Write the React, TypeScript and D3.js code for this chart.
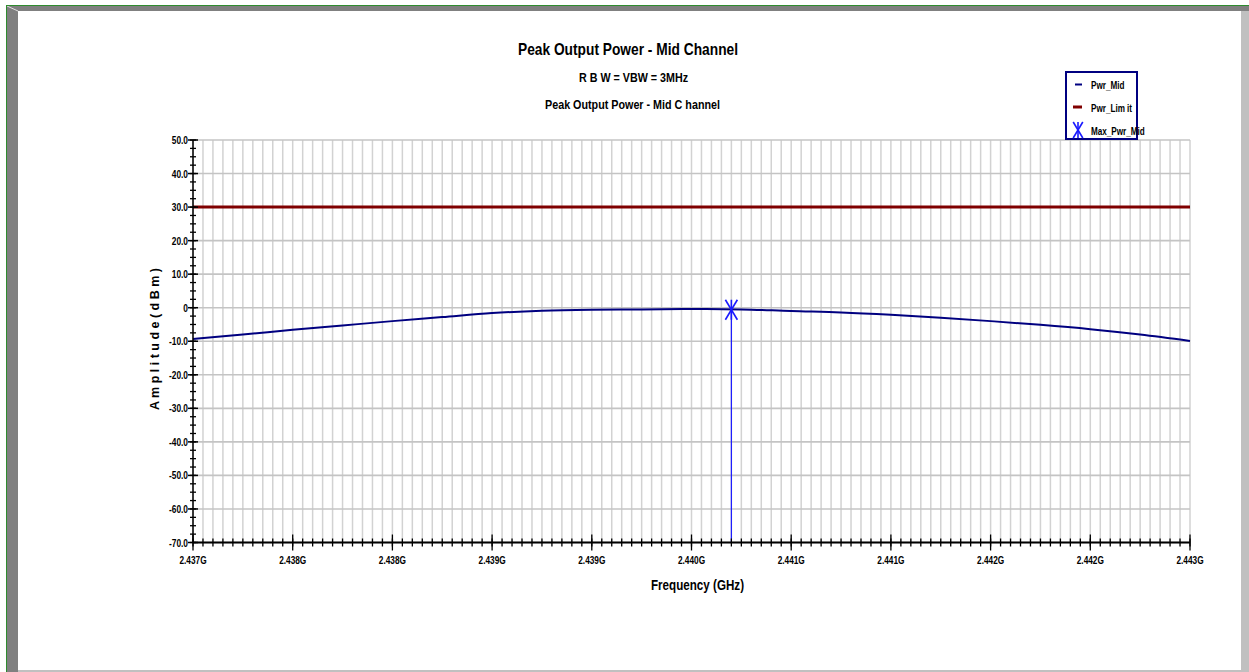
import * as d3 from 'd3';
import React from 'react';

// values
const freqGHz = [
  2.4370, 2.4373, 2.4376, 2.4379, 2.4382, 2.4385, 2.4388, 2.4391, 2.4394, 2.4397, 2.4400,
  2.4403, 2.4406, 2.4409, 2.4412, 2.4415, 2.4418, 2.4421, 2.4424, 2.4427, 2.4430,
];
const pwrMid = [
  -9.3, -8.0, -6.6, -5.3, -4.0, -2.8, -1.6, -0.9, -0.6, -0.5, -0.4,
  -0.5, -1.0, -1.4, -2.1, -3.0, -4.0, -5.1, -6.4, -8.0, -9.9,
];
const pwrLimit = 30;
const maxPwr = { freq: 2.44024, value: -0.6 };

const xTickLabels = [
  '2.437G', '2.438G', '2.438G', '2.439G', '2.439G', '2.440G',
  '2.441G', '2.441G', '2.442G', '2.442G', '2.443G',
];
const yTickValues = [50, 40, 30, 20, 10, 0, -10, -20, -30, -40, -50, -60, -70];
const yTickLabels = ['50.0', '40.0', '30.0', '20.0', '10.0', '0', '-10.0', '-20.0', '-30.0', '-40.0', '-50.0', '-60.0', '-70.0'];

const W = 1249;
const H = 672;
const FONT = '"Liberation Sans", Arial, sans-serif';

const NAVY = '#000080';
const LIMIT = '#800000';
const BLUE = '#1a1aff';

// narrow text: the original uses a condensed face, squeeze it horizontally
function NText({ x, y, k = 0.8, size, anchor = 'start', children }: any) {
  return (
    <text transform={`translate(${x},${y}) scale(${k},1)`} textAnchor={anchor} fontSize={size} fontWeight="bold">
      {children}
    </text>
  );
}

function Asterisk({ cx, cy, s }: { cx: number; cy: number; s: number }) {
  const dx = s * 0.6;
  return (
    <g stroke={BLUE} strokeWidth={1.6}>
      <line x1={cx} y1={cy - s} x2={cx} y2={cy + s} />
      <line x1={cx - dx} y1={cy - s} x2={cx + dx} y2={cy + s} />
      <line x1={cx + dx} y1={cy - s} x2={cx - dx} y2={cy + s} />
    </g>
  );
}

export default function App() {
  const x = d3.scaleLinear().domain([2.437, 2.443]).range([193, 1190]);
  const y = d3.scaleLinear().domain([-70, 50]).range([542.5, 140]);
  const [x0, x1] = x.range();
  const [yb, yt] = y.range();

  const majorX = d3.range(xTickLabels.length).map(i => 2.437 + (i * 0.006) / (xTickLabels.length - 1));
  const minorX = d3.range(101).map(i => 2.437 + (i * 0.006) / 100);
  const minorY = d3.range(49).map(i => -70 + i * 2.5);

  const data = freqGHz.map((f, i) => ({ f, v: pwrMid[i] }));
  const line = d3.line<{ f: number; v: number }>()
    .x(d => x(d.f))
    .y(d => y(d.v))
    .curve(d3.curveMonotoneX);

  return (
    <svg width={W} height={H} style={{ position: 'absolute', left: 0, top: 0, background: '#fff' }} fontFamily={FONT}>
      {/* window frame */}
      <rect x={0} y={0} width={W} height={H} fill="#fff" />
      <polygon points={`7,6 ${W},6 ${W},11 18,11 18,${H} 7,${H}`} fill="#808080" />
      <line x1={7} y1={6} x2={18} y2={11} stroke="#e0e0e0" strokeWidth={1} />
      <rect x={1241} y={11} width={8} height={H - 11} fill="#c0c0c0" />
      <rect x={18} y={670} width={1223} height={2} fill="#c0c0c0" />
      <line x1={6.5} y1={5} x2={6.5} y2={H} stroke="#2e8b2e" strokeWidth={1} />
      <line x1={6} y1={5.5} x2={W} y2={5.5} stroke="#2e8b2e" strokeWidth={1} />

      {/* titles */}
      <text x={518} y={55} fontSize={16.5} fontWeight="bold" textLength={220} lengthAdjust="spacingAndGlyphs">Peak Output Power - Mid Channel</text>
      <text x={579} y={82} fontSize={12} fontWeight="bold" textLength={109} lengthAdjust="spacingAndGlyphs">R B W = VBW = 3MHz</text>
      <text x={545} y={108.5} fontSize={13} fontWeight="bold" textLength={175} lengthAdjust="spacingAndGlyphs">Peak Output Power - Mid C hannel</text>

      {/* grid */}
      {minorX.map((f, i) => (
        <line key={'gx' + i} x1={x(f)} x2={x(f)} y1={yt} y2={yb} stroke="#d2d2d2" strokeWidth={1.5} />
      ))}
      {yTickValues.map(v => (
        <line key={'gy' + v} x1={x0} x2={x1} y1={y(v)} y2={y(v)} stroke="#c4c4c4" strokeWidth={1.6} />
      ))}

      {/* limit line */}
      <line x1={x0} x2={x1} y1={y(pwrLimit)} y2={y(pwrLimit)} stroke={LIMIT} strokeWidth={3} />

      {/* measured trace */}
      <path d={line(data) ?? ''} fill="none" stroke={NAVY} strokeWidth={2} />

      {/* peak marker */}
      <line x1={x(maxPwr.freq)} x2={x(maxPwr.freq)} y1={y(maxPwr.value)} y2={yb} stroke={BLUE} strokeWidth={1.2} />
      <Asterisk cx={x(maxPwr.freq)} cy={y(maxPwr.value)} s={10} />

      {/* y axis */}
      <line x1={x0} x2={x0} y1={yt} y2={yb} stroke="#000" strokeWidth={1.5} />
      {minorY.map((v, i) => (
        <line key={'my' + i} x1={x0 - 3} x2={x0 + 3} y1={y(v)} y2={y(v)} stroke="#000" strokeWidth={1.3} />
      ))}
      {yTickValues.map((v, i) => (
        <g key={'ty' + v}>
          <line x1={x0 - 5} x2={x0 + 5} y1={y(v)} y2={y(v)} stroke="#000" strokeWidth={1.5} />
          <NText x={x0 - 5} y={y(v) + 4} size={11} k={0.76} anchor="end">{yTickLabels[i]}</NText>
        </g>
      ))}

      {/* x axis */}
      <line x1={x0} x2={x1} y1={yb} y2={yb} stroke="#000" strokeWidth={2} />
      {minorX.map((f, i) => (
        <line key={'mx' + i} x1={x(f)} x2={x(f)} y1={yb - 4} y2={yb + 4} stroke="#000" strokeWidth={1.3} />
      ))}
      {majorX.map((f, i) => (
        <g key={'tx' + i}>
          <line x1={x(f)} x2={x(f)} y1={yb - 8} y2={yb + 8} stroke="#000" strokeWidth={1.3} />
          <NText x={x(f)} y={yb + 21.5} size={11.5} k={0.72} anchor="middle">{xTickLabels[i]}</NText>
        </g>
      ))}

      {/* axis titles */}
      <text x={651} y={589.5} fontSize={15} fontWeight="bold" textLength={93} lengthAdjust="spacingAndGlyphs">Frequency (GHz)</text>
      <text transform="translate(159,410) rotate(-90)" fontSize={13} fontWeight="bold" textLength={142} lengthAdjust="spacingAndGlyphs">A m p l i t u d e   ( d B m )</text>

      {/* legend */}
      <rect x={1066} y={72} width={71} height={67} fill="#fff" stroke={NAVY} strokeWidth={2} />
      <line x1={1075} x2={1082} y1={84.5} y2={84.5} stroke={NAVY} strokeWidth={2} />
      <NText x={1091} y={88.5} size={11} k={0.74}>Pwr_Mid</NText>
      <line x1={1073} x2={1082} y1={107} y2={107} stroke={LIMIT} strokeWidth={3} />
      <NText x={1091} y={111.5} size={11} k={0.74}>Pwr_Lim it</NText>
      <Asterisk cx={1078} cy={130} s={8} />
      <NText x={1091} y={134.5} size={11} k={0.74}>Max_Pwr_Mid</NText>
    </svg>
  );
}
